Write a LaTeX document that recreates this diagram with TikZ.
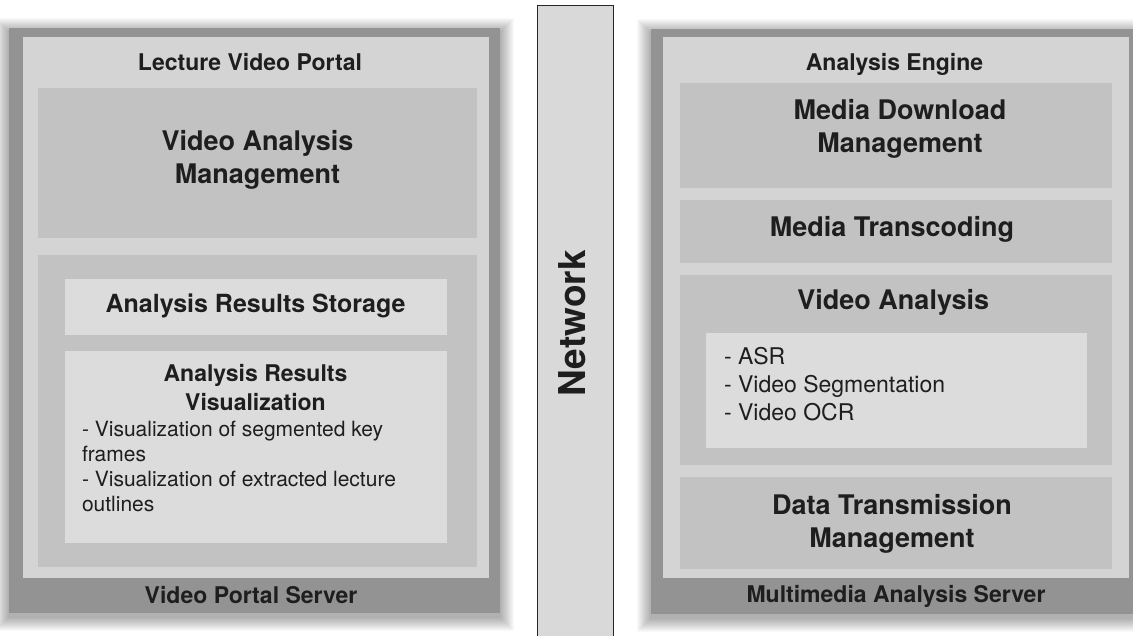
\documentclass[tikz,border=0pt]{standalone}
\usepackage{fontspec}
\setmainfont{TeX Gyre Heros}
\usetikzlibrary{fit}
\definecolor{outerc}{HTML}{939393}
\definecolor{innerc}{HTML}{D4D4D4}
\definecolor{midc}{HTML}{C2C2C2}
\definecolor{lightc}{HTML}{DCDCDC}
\definecolor{netc}{HTML}{D9D9D9}
\definecolor{txt}{HTML}{1E1E1E}
\begin{document}
\begin{tikzpicture}[x=1pt,y=-1pt,
  box/.style={inner sep=0pt, outer sep=0pt, draw=none},
  outerbox/.style={box, fill=outerc},
  innerbox/.style={box, fill=innerc},
  midbox/.style={box, fill=midc},
  lightbox/.style={box, fill=lightc},
  netbox/.style={box, fill=netc, draw=black!85, line width=1pt},
  label/.style={text=txt, inner sep=0pt, outer sep=0pt},
  small/.style={label, anchor=base, font=\bfseries\fontsize{23}{28}\selectfont},
  big/.style={label, anchor=base, align=center, font=\bfseries\fontsize{27}{33}\selectfont},
  mid/.style={label, anchor=base, align=center, font=\bfseries\fontsize{25}{30}\selectfont},
  sub/.style={label, anchor=base, align=center, font=\bfseries\fontsize{23}{28.5}\selectfont},
  leftlist/.style={label, anchor=base west, align=left, font=\fontsize{21}{25}\selectfont},
  rightlist/.style={label, anchor=base west, align=left, font=\fontsize{23}{27.5}\selectfont},
  nettext/.style={label, anchor=base, rotate=90, font=\bfseries\fontsize{37}{40}\selectfont}
]
\clip (0,0) rectangle (1133,636);
\fill[white] (0,0) rectangle (1133,636);
% soft shadows
\foreach \i in {1,...,14} {
  \fill[black, opacity=0.022] (9-\i,32-\i) rectangle (500+\i,617+\i);
  \fill[black, opacity=0.022] (651-\i,33-\i) rectangle (1141+\i,618+\i);
}
% ---------------- left server ----------------
\node[outerbox, fit={(9,28)(500,613)}] (lsrv) {};
\node[innerbox, fit={(23,37)(489,578)}] (lportal) {};
\node[midbox, fit={(38,88)(477,238)}] (vam) {};
\node[midbox, fit={(38,255)(477,567)}] (results) {};
\node[lightbox, fit={(65,279)(447,335)}] (ars) {};
\node[lightbox, fit={(65,351)(447,543)}] (arv) {};

\node[small] (t-lvp) at (250,70.7) {Lecture Video Portal};
\node[big] (t-vam) at (257.5,184) {Video Analysis\\Management};
\node[mid] (t-ars) at (255.5,313) {Analysis Results Storage};
\node[sub] (t-arv) at (255.5,410) {Analysis Results\\Visualization};
\node[leftlist] (t-arvl) at (82,511) {- Visualization of segmented key\\frames\\- Visualization of extracted lecture\\outlines};
\node[small] (t-vps) at (251,603) {Video Portal Server};

% ---------------- network ----------------
\node[netbox, fit={(537,6)(613,660)}] (net) {};
\node[nettext] (t-net) at (585,323.5) {Network};

% ---------------- right server ----------------
\node[outerbox, fit={(651,29)(1141,614)}] (rsrv) {};
\node[innerbox, fit={(663,37)(1129,578)}] (engine) {};
\node[midbox, fit={(680,83)(1112,188)}] (mdm) {};
\node[midbox, fit={(680,200)(1112,263)}] (mt) {};
\node[midbox, fit={(680,275)(1112,465)}] (va) {};
\node[lightbox, fit={(706,333)(1087,448)}] (valist) {};
\node[midbox, fit={(680,477)(1112,569)}] (dtm) {};

\node[small] (t-ae) at (894.5,70.7) {Analysis Engine};
\node[big] (t-mdm) at (900,153) {Media Download\\Management};
\node[big] (t-mt) at (892,236.5) {Media Transcoding};
\node[big] (t-va) at (893.3,310) {Video Analysis};
\node[rightlist] (t-val) at (724,420) {- ASR\\- Video Segmentation\\- Video OCR};
\node[big] (t-dtm) at (892,547.7) {Data Transmission\\Management};
\node[small] (t-mas) at (896,602.7) {Multimedia Analysis Server};
\end{tikzpicture}
\end{document}
